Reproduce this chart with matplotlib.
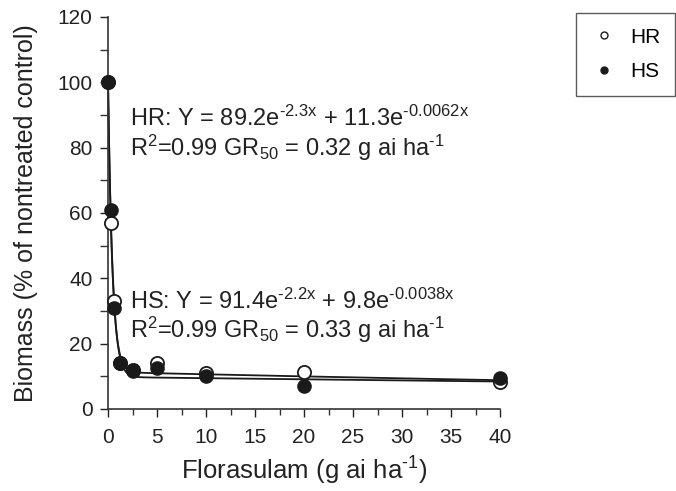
import numpy as np
import matplotlib
matplotlib.use("Agg")
import matplotlib.pyplot as plt
from matplotlib.ticker import MultipleLocator
from matplotlib.lines import Line2D

plt.rcParams['font.family'] = ['Liberation Sans', 'DejaVu Sans']
plt.rcParams['mathtext.fontset'] = 'custom'
plt.rcParams['mathtext.rm'] = 'Liberation Sans'
plt.rcParams['mathtext.it'] = 'Liberation Sans'
plt.rcParams['mathtext.default'] = 'regular'

# Data
doses = [0, 0.31, 0.63, 1.25, 2.5, 5, 10, 20, 40]
hr_biomass = [100, 57, 33, 14, 12, 14, 11, 11.3, 8.4]
hs_biomass = [100, 61, 31, 14, 11.5, 12.5, 10, 7, 9.6]
# fitted model parameters: Y = a*exp(-b x) + c*exp(-d x)
hr_params = [89.2, 2.3, 11.3, 0.0062]
hs_params = [91.4, 2.2, 9.8, 0.0038]

xticks = [0, 5, 10, 15, 20, 25, 30, 35, 40]
yticks = [0, 20, 40, 60, 80, 100, 120]

H = '\u2010'  # hyphen (as in the original typesetting)

fig = plt.figure(figsize=(6.76, 4.91), dpi=100)
ax = fig.add_axes([108/676, 1-409/491, (500-108)/676, (409-17)/491])

xs = np.linspace(0, 40, 2000)
for p in (hr_params, hs_params):
    a, b, c, d = p
    ax.plot(xs, a*np.exp(-b*xs) + c*np.exp(-d*xs), color='#1a1a1a', lw=1.3, zorder=2, clip_on=False)

ax.plot(doses, hr_biomass, 'o', ms=9.5, mfc='white', mec='#1a1a1a', mew=1.3, zorder=3, clip_on=False)
ax.plot(doses, hs_biomass, 'o', ms=9.5, mfc='#1a1a1a', mec='#1a1a1a', mew=1.0, zorder=4, clip_on=False)

ax.set_xlim(0, 40)
ax.set_ylim(0, 120)
ax.set_xticks(xticks)
ax.set_yticks(yticks)
ax.xaxis.set_minor_locator(MultipleLocator(2.5))
ax.yaxis.set_minor_locator(MultipleLocator(10))
for s in ('top', 'right'):
    ax.spines[s].set_visible(False)
for s in ('left', 'bottom'):
    ax.spines[s].set_linewidth(1.2)
    ax.spines[s].set_color('#333333')
ax.tick_params(which='both', direction='out', length=6, width=1.0, color='#333333')
ax.tick_params(axis='x', which='minor', length=4)
ax.tick_params(axis='y', which='minor', length=6)
ax.tick_params(axis='both', which='major', labelsize=15, colors='#222222', pad=5)
ax.tick_params(axis='x', which='major', pad=8)

ax.set_xlabel('Florasulam (g ai ha$^{' + H + '1}$)', fontsize=18.5, color='#222222', labelpad=5)
ax.set_ylabel('Biomass (% of nontreated control)', fontsize=18, color='#222222', labelpad=14)

fs = 17
ax.text(2.2, 86.6, 'HR: Y = 89.2e$^{' + H + '2.3x}$ + 11.3e$^{' + H + '0.0062x}$', fontsize=fs, color='#222222', va='baseline')
ax.text(2.2, 77.6, 'R$^2$=0.99 GR$_{50}$ = 0.32 g ai ha$^{' + H + '1}$', fontsize=fs, color='#222222', va='baseline')
ax.text(2.2, 30.5, 'HS: Y = 91.4e$^{' + H + '2.2x}$ + 9.8e$^{' + H + '0.0038x}$', fontsize=fs, color='#222222', va='baseline')
ax.text(2.2, 21.8, 'R$^2$=0.99 GR$_{50}$ = 0.33 g ai ha$^{' + H + '1}$', fontsize=fs, color='#222222', va='baseline')

handles = [Line2D([], [], ls='none', marker='o', ms=5, mfc='white', mec='#1a1a1a', mew=1.0),
           Line2D([], [], ls='none', marker='o', ms=5, mfc='#1a1a1a', mec='#1a1a1a')]
leg = fig.legend(handles, ['HR', 'HS'], loc='upper left', bbox_to_anchor=(576/676, 1-13/491),
                 fontsize=15, frameon=True, fancybox=False, edgecolor='#333333',
                 handlelength=1.3, handletextpad=0.6, labelspacing=0.75, borderpad=0.7, borderaxespad=0)
leg.get_frame().set_linewidth(1.0)

fig.savefig('out.png', dpi=100)
